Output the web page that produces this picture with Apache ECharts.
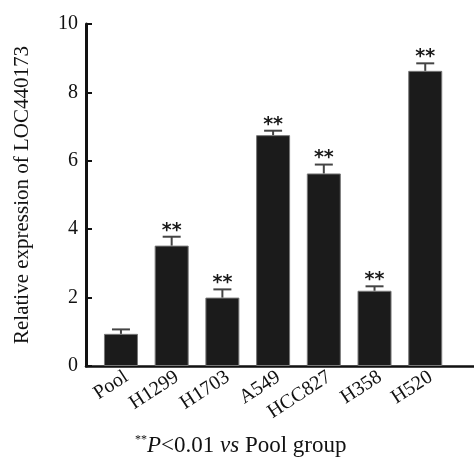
<!DOCTYPE html>
<html>
<head>
<meta charset="utf-8">
<script src="https://cdn.jsdelivr.net/npm/echarts@6/dist/echarts.min.js"></script>
<style>html,body{margin:0;padding:0;background:#fff;}#chart{width:474px;height:468px;}</style>
</head>
<body>
<div id="chart"></div>
<script>
var categories = ['Pool', 'H1299', 'H1703', 'A549', 'HCC827', 'H358', 'H520'];
var means = [0.94, 3.52, 2.0, 6.75, 5.63, 2.2, 8.63];
var errors = [0.13, 0.26, 0.24, 0.13, 0.26, 0.13, 0.22];
var marks = ['', '**', '**', '**', '**', '**', '**'];
var yTicks = [0, 2, 4, 6, 8, 10];
var yTitle = 'Relative expression of LOC440173';

var chart = echarts.init(document.getElementById('chart'));
var serif = '"Liberation Serif", "Times New Roman", serif';

var errData = categories.map(function (c, i) { return [i, means[i], errors[i], marks[i]]; });

chart.setOption({
  backgroundColor: '#ffffff',
  animation: false,
  grid: [
    { left: 95.6, width: 355, top: 24, height: 342 },
    { left: 86, right: 0, top: 24, height: 342 }
  ],
  xAxis: [
    {
      type: 'category', gridIndex: 0, data: categories,
      axisLine: { show: false }, axisTick: { show: false },
      axisLabel: { rotate: 33, margin: 1, verticalAlign: 'top', color: '#111', fontFamily: serif, fontSize: 20 }
    },
    {
      type: 'value', gridIndex: 1, min: 0, max: 1,
      axisLine: { show: true, lineStyle: { color: '#111', width: 2.5 } },
      axisTick: { show: false }, axisLabel: { show: false }, splitLine: { show: false }
    }
  ],
  yAxis: [
    {
      type: 'value', gridIndex: 0, min: yTicks[0], max: yTicks[yTicks.length - 1], interval: 2,
      offset: 9.6,
      name: yTitle, nameLocation: 'middle', nameGap: 53,
      nameTextStyle: { fontFamily: serif, fontSize: 21, color: '#111' },
      axisLine: { show: true, lineStyle: { color: '#111', width: 3 } },
      axisTick: { show: true, inside: true, length: 6, lineStyle: { color: '#111', width: 2 } },
      axisLabel: { color: '#111', fontFamily: serif, fontSize: 20, margin: 8 },
      splitLine: { show: false }
    },
    { type: 'value', gridIndex: 1, show: false, min: 0, max: 1 }
  ],
  series: [
    {
      type: 'bar', xAxisIndex: 0, yAxisIndex: 0, data: means, barWidth: 34,
      itemStyle: { color: '#1b1b1b', borderColor: '#777', borderWidth: 1 }
    },
    {
      type: 'custom', xAxisIndex: 0, yAxisIndex: 0, data: errData, z: 5,
      renderItem: function (params, api) {
        var i = api.value(0), m = api.value(1), e = api.value(2);
        var top = api.coord([i, m + e]);
        var base = api.coord([i, m]);
        var x = top[0];
        var children = [
          { type: 'line', shape: { x1: x, y1: base[1], x2: x, y2: top[1] }, style: { stroke: '#444', lineWidth: 2 } },
          { type: 'line', shape: { x1: x - 9, y1: top[1], x2: x + 9, y2: top[1] }, style: { stroke: '#444', lineWidth: 2 } }
        ];
        var mk = errData[params.dataIndex][3];
        if (mk) {
          children.push({
            type: 'text',
            style: { text: mk, x: x, y: top[1] - 6, align: 'center', verticalAlign: 'middle',
              fill: '#1a1a1a', font: 'bold 19px "DejaVu Sans", sans-serif' }
          });
        }
        return { type: 'group', children: children };
      }
    }
  ],
  graphic: [
    {
      type: 'text', left: 135, top: 434,
      style: {
        text: '{s|**}{i|P}{n|<0.01 }{i|vs}{n| Pool group}',
        rich: {
          s: { fontFamily: serif, fontSize: 12, fill: '#111', verticalAlign: 'top', padding: [0, 0, 12, 0] },
          i: { fontFamily: serif, fontSize: 23, fontStyle: 'italic', fill: '#111' },
          n: { fontFamily: serif, fontSize: 23, fill: '#111' }
        }
      }
    }
  ]
});
</script>
</body>
</html>
